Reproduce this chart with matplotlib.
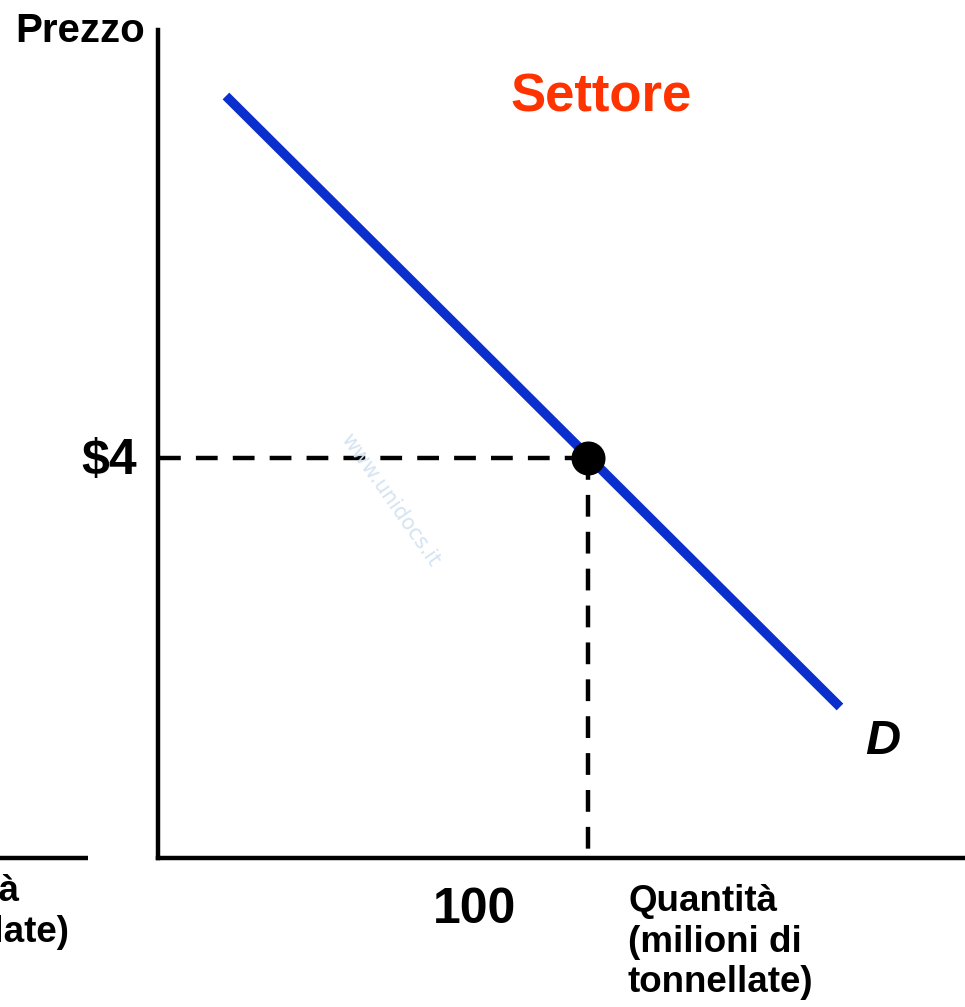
import matplotlib
matplotlib.use("Agg")
import matplotlib.pyplot as plt

plt.rcParams['font.family'] = ['Liberation Sans', 'DejaVu Sans']

# Data (economic units)
demand_q = [15.8, 158.6]
demand_p = [7.62, 1.51]
eq_q = 100
eq_p = 4
price_label = "$4"
qty_label = "100"

W, H = 965, 1007
fig = plt.figure(figsize=(W / 100, H / 100), dpi=100)

# main axes: x from pixel 158 to 965, y from 30 to 858
x0, x1, ytop, ybot = 158, 965, 30, 858
ax = fig.add_axes([x0 / W, (H - ybot) / H, (x1 - x0) / W, (ybot - ytop) / H])
ax.set_xlim(0, (x1 - x0) / 4.3)
ax.set_ylim(0, (ybot - ytop) / 100)
for s in ['top', 'right']:
    ax.spines[s].set_visible(False)
for s in ['left', 'bottom']:
    ax.spines[s].set_linewidth(3.2)
    ax.spines[s].set_color('black')
ax.set_xticks([])
ax.set_yticks([])
ax.patch.set_alpha(0)

ax.plot(demand_q, demand_p, color='#0a2fcc', lw=6.8, solid_capstyle='butt', zorder=3)
ax.plot([0.3, eq_q], [eq_p, eq_p], color='black', lw=3.2, dashes=(4.9, 3.4), zorder=2)
ax.plot([eq_q, eq_q], [eq_p, 0], color='black', lw=3.2, dashes=(4.9, 3.4), zorder=2)
ax.plot([eq_q], [eq_p], 'o', color='black', ms=23.5, zorder=4, clip_on=False)

# overlay axes in pixel coords for text
ov = fig.add_axes([0, 0, 1, 1])
ov.set_xlim(0, W)
ov.set_ylim(H, 0)
ov.axis('off')
ov.patch.set_alpha(0)

# watermark
ov.text(390, 500, "www.unidocs.it", color='#d5e4f2', fontsize=15, rotation=-55,
        ha='center', va='center', family=['DejaVu Sans'])

ov.plot([0, 88], [858, 858], color='black', lw=3.2, solid_capstyle='butt')

ov.text(15, 31, "Prezzo", fontsize=29, fontweight='bold', ha='left', va='center')
ov.text(601, 97, "Settore", fontsize=38, fontweight='bold', color='#ff3300',
        ha='center', va='center')
ov.text(137, 461, price_label, fontsize=36, fontweight='bold', ha='right', va='center')
ov.text(475, 910, qty_label, fontsize=36, fontweight='bold', ha='center', va='center')
ov.text(865, 741, "D", fontsize=35, fontweight='bold', fontstyle='italic',
        ha='left', va='center')
ov.text(628, 942, "Quantità\n(milioni di\ntonnellate)", fontsize=26.5,
        fontweight='bold', ha='left', va='center', linespacing=1.2)
ov.text(-129, 912, "Quantità\n(tonnellate)", fontsize=26.5,
        fontweight='bold', ha='left', va='center', linespacing=1.2)

fig.savefig("out.png", dpi=100)
